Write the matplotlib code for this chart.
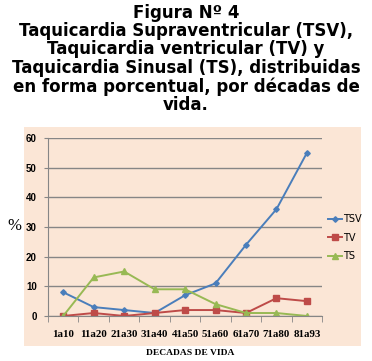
import matplotlib.pyplot as plt
import matplotlib.patches as mpatches
import numpy as np

# datos
decadas = ['1a10', '11a20', '21a30', '31a40', '41a50', '51a60', '61a70', '71a80', '81a93']
tsv = [8, 3, 2, 1, 7, 11, 24, 36, 55]
tv = [0, 1, 0, 1, 2, 2, 1, 6, 5]
ts = [0, 13, 15, 9, 9, 4, 1, 1, 0]

fig = plt.figure(figsize=(3.72, 3.61), dpi=100)

# titulo
titulo = ('Figura N\u00ba 4\n'
          'Taquicardia Supraventricular (TSV),\n'
          'Taquicardia ventricular (TV) y\n'
          'Taquicardia Sinusal (TS), distribuidas\n'
          'en forma porcentual, por d\u00e9cadas de\n'
          'vida.')
fig.text(0.5, 0.99, titulo, ha='center', va='top', fontsize=12,
         fontweight='bold', family='DejaVu Sans', linespacing=1.03)

# fondo
fondo = mpatches.Rectangle((0.0645, 0.0416), 0.906, 0.607, transform=fig.transFigure,
                           facecolor='#fbe6d6', edgecolor='none', zorder=-5)
fig.add_artist(fondo)

ax = fig.add_axes([0.129, 0.1247, 0.737, 0.493])
ax.set_zorder(2)
ax.set_facecolor('none')
x = np.arange(len(decadas))

ax.plot(x, tsv, color='#4a7ebb', marker='D', ms=2.8, lw=1.4, label='TSV')
ax.plot(x, tv, color='#be4b48', marker='s', ms=3.8, lw=1.4, label='TV')
ax.plot(x, ts, color='#98b954', marker='^', ms=4.2, lw=1.4, label='TS')

ax.set_xlim(-0.5, 8.5)
ax.set_ylim(0, 60)
ax.set_yticks(range(0, 61, 10))
ax.grid(axis='y', color='#868686', lw=1)
ax.set_axisbelow(True)
for s in ['top', 'right']:
    ax.spines[s].set_visible(False)
ax.spines['left'].set_color('#868686')
ax.spines['bottom'].set_color('#868686')

ax.set_xticks(x)
ax.set_xticklabels(decadas)
ax.set_xticks(np.arange(-0.5, 9, 1), minor=True)
ax.tick_params(axis='x', which='major', length=0, pad=10)
ax.tick_params(axis='x', which='minor', length=4, color='#868686')
ax.tick_params(axis='y', length=3, color='#868686', pad=5)
for lab in ax.get_xticklabels():
    lab.set_family('Liberation Serif')
    lab.set_fontweight('bold')
    lab.set_fontsize(7.8)
for lab in ax.get_yticklabels():
    lab.set_family('Liberation Sans')
    lab.set_fontweight('bold')
    lab.set_fontsize(7)

fig.text(0.038, 0.375, '%', fontsize=12, family='Liberation Serif', ha='center', va='center')
fig.text(0.51, 0.022, 'DECADAS DE VIDA', fontsize=6.8, family='Liberation Serif',
         fontweight='bold', ha='center', va='center')

ax.legend(loc='center left', bbox_to_anchor=(1.0, 0.44), frameon=False,
          fontsize=7, handlelength=1.4, handletextpad=0.1, labelspacing=0.9,
          borderaxespad=0.2)

plt.savefig('out.png', dpi=100)
